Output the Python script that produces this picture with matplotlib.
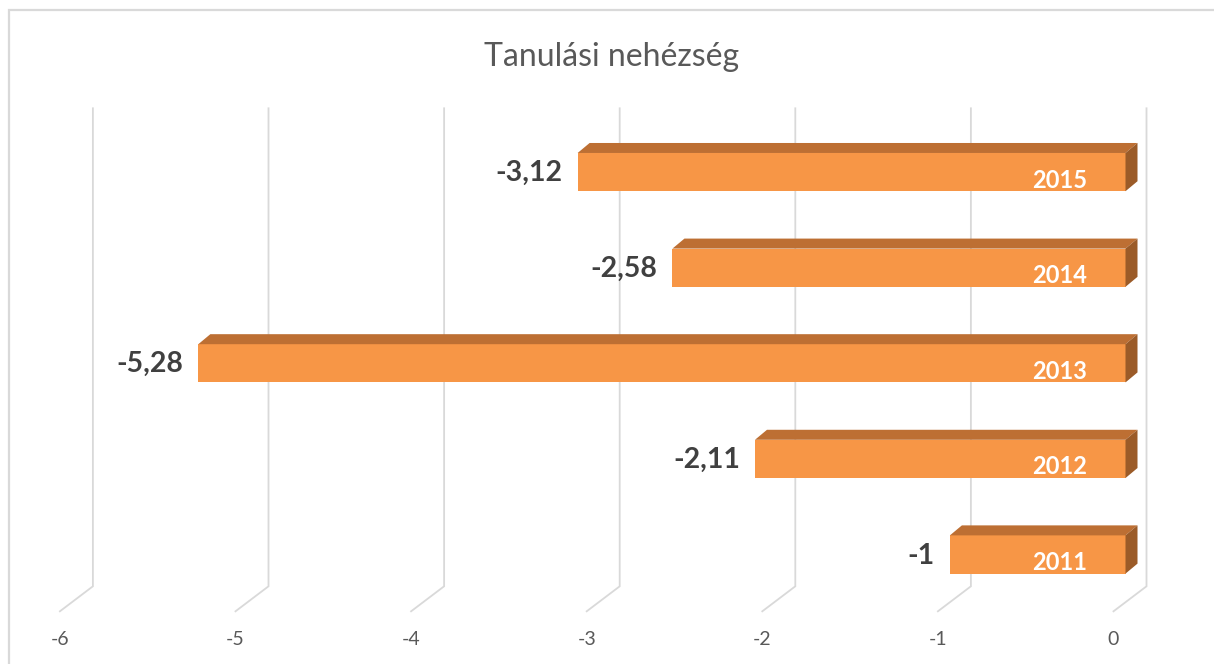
import matplotlib.pyplot as plt
from matplotlib.patches import Polygon, Rectangle

# data
years = ["2011", "2012", "2013", "2014", "2015"]
values = [-1, -2.11, -5.28, -2.58, -3.12]
ticks = [-6, -5, -4, -3, -2, -1, 0]
title = "Tanulási nehézség"

W, H = 1214, 664
fig = plt.figure(figsize=(W / 100, H / 100), dpi=100)

# pixel layout of the front face plane
x0_px, ppx = 1125.5, 175.6     # pixel of value 0, pixels per unit
y0_px, ppy = 554.5, 95.6       # pixel of first category, pixels per category
xlim = (-6.4, 0.5)
ylim = (-0.95, 4.95)
left = (x0_px + xlim[0] * ppx) / W
bottom = (H - (y0_px - ylim[0] * ppy)) / H
ax = fig.add_axes([left, bottom, (xlim[1] - xlim[0]) * ppx / W,
                   (ylim[1] - ylim[0]) * ppy / H])
ax.set_xlim(*xlim)
ax.set_ylim(*ylim)
ax.axis('off')

def dx(p):
    return p / ppx

def dy(p):
    return p / ppy

grid_c = '#D9D9D9'
# back wall gridlines + floor diagonals
for t in ticks:
    bx, by_lo, by_hi = t + dx(21), -0.5 + dy(16), 4.5 + dy(16)
    fx, fy = t - dx(12), -0.5 - dy(9)
    ax.plot([bx, bx, fx], [by_hi, by_lo, fy], color=grid_c, lw=1.3,
            zorder=1, clip_on=False, solid_joinstyle='miter')
    ax.text(fx, -0.885, str(t), ha='center', va='center', fontsize=14,
            color='#595959', family='Lato')

# bars
front_c, top_c, side_c = '#F79646', '#BD6F33', '#9B5B28'
bh = 0.4
ddx, ddy = dx(12), dy(10)
cats = list(range(len(years)))
ax.barh(cats, values, height=bh, color=front_c, zorder=3)
for c, v, yr in zip(cats, values, years):
    ytop, ybot = c + bh / 2, c - bh / 2
    ax.add_patch(Polygon([(v, ytop), (0, ytop), (ddx, ytop + ddy), (v + ddx, ytop + ddy)],
                         closed=True, facecolor=top_c, edgecolor='none', zorder=3))
    ax.add_patch(Polygon([(0, ybot), (0, ytop), (ddx, ytop + ddy), (ddx, ybot + ddy)],
                         closed=True, facecolor=side_c, edgecolor='none', zorder=3))
    lab = ('%g' % v).replace('.', ',')
    ax.text(v - dx(15), c - dy(1), lab, ha='right', va='center', fontsize=20.5,
            fontweight='bold', color='#404040', family='Lato', zorder=4)
    ax.text(dx(-66), c - dy(8), yr, ha='center', va='center', fontsize=17,
            fontweight='bold', color='white', family='Lato', zorder=4)

fig.text(612 / W, 1 - 57 / H, title, ha='center', va='center', fontsize=23,
         color='#595959', family='Lato')

# chart frame
fig.patches.append(Rectangle((9 / W, -0.05), 1.2, 1 - 10 / H + 0.05,
                             transform=fig.transFigure, fill=False,
                             edgecolor='#D9D9D9', lw=1.6, zorder=0))

fig.savefig('out.png', dpi=100)
